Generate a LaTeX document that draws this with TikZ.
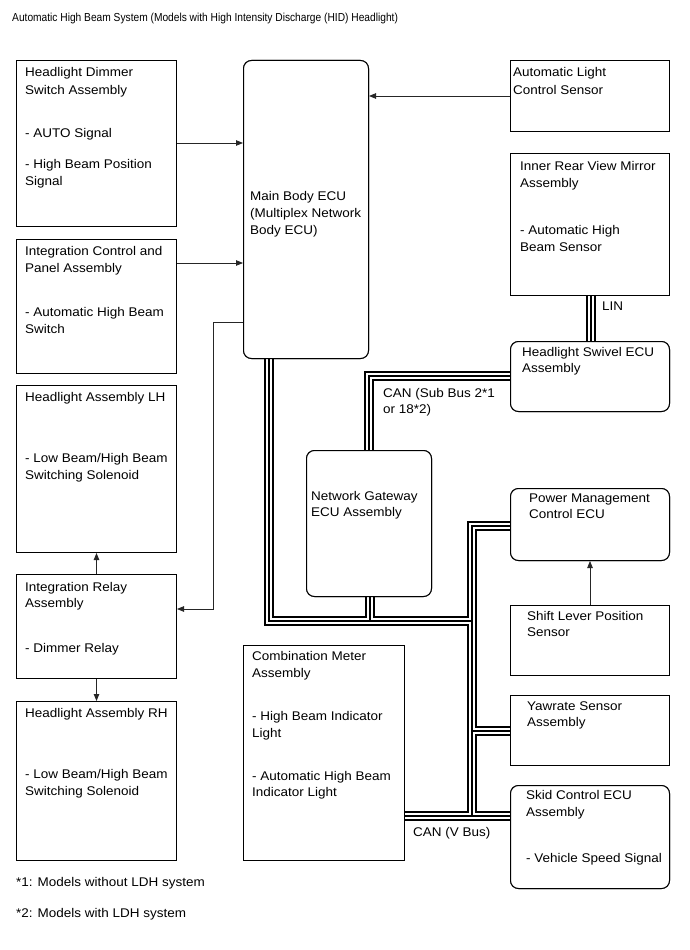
\documentclass[tikz,border=0pt]{standalone}
\usepackage{fontspec}
\setmainfont[FakeStretch=1.07]{Liberation Sans}
\newfontfamily\titlefont[FakeStretch=0.88]{Liberation Sans}
\usetikzlibrary{arrows.meta}
\newcommand\BusNet[1]{%
  \draw[#1] (mirror.south -| xlin) -- (swivel.north -| xlin);
  \draw[#1] (swivel.west |- xsub) -- (xsub) -- (gateway.north -| xsub);
  \draw[#1] (mainecu.south -| xmain) -- (xmain) -- (xjoin);
  \draw[#1] (gateway.south -| xgw) -- (xgw);
  \draw[#1] (power.west |- xvtop) -- (xvtop) -- (xvbot) -- (comb.east |- xvbot);
  \draw[#1] (xvbot) -- (skid.west |- xvbot);
  \draw[#1] (xyaw) -- (yaw.west |- xyaw);
}
\begin{document}
\begin{tikzpicture}[x=1pt,y=-1pt,
  every node/.style={font=\fontsize{12.6}{15}\selectfont},
  box/.style={draw=black, line width=1pt, fill=white, inner sep=0pt, anchor=north west},
  rbox/.style={box, rounded corners=8pt},
  txt/.style={anchor=west, inner sep=0pt, text height=0.72em, text depth=0pt},
  arr/.style={line width=0.8pt, draw=black!85, -{Triangle[length=7pt,width=5.5pt]}},
  busa/.style={line width=10pt, black},
  busb/.style={line width=6.5pt, white},
  busc/.style={line width=1.1pt, black}]
\useasboundingbox (0,0) rectangle (689,950);
\fill[white] (0,0) rectangle (689,950);

% helper coordinates
\coordinate (xlin) at (591,0);
\coordinate (xsub) at (369,376);
\coordinate (xmain) at (269,621);
\coordinate (xjoin) at (472,621);
\coordinate (xgw) at (370,621);
\coordinate (xvtop) at (472,526);
\coordinate (xvbot) at (472,816);
\coordinate (xyaw) at (472,731);
\coordinate (ah1) at (200,143);
\coordinate (ah2) at (200,263);
\coordinate (ar1) at (213,322);
\coordinate (ar2) at (213,609);

% boxes (geometry first, for anchors)
\node[box, minimum width=160pt, minimum height=166pt] (dimmer) at (16,60) {};
\node[box, minimum width=160pt, minimum height=134pt] (icp) at (16,239) {};
\node[box, minimum width=160pt, minimum height=167pt] (lh) at (16,385) {};
\node[box, minimum width=160pt, minimum height=104pt] (relay) at (16,574) {};
\node[box, minimum width=160pt, minimum height=159pt] (rh) at (16,701) {};
\node[rbox, minimum width=125pt, minimum height=298pt] (mainecu) at (243,60) {};
\node[box, minimum width=159pt, minimum height=71pt] (alcs) at (510,60) {};
\node[box, minimum width=159pt, minimum height=142pt] (mirror) at (510,153) {};
\node[rbox, minimum width=159pt, minimum height=70pt] (swivel) at (510,341) {};
\node[rbox, minimum width=125pt, minimum height=146pt] (gateway) at (306,450) {};
\node[rbox, minimum width=159pt, minimum height=72pt] (power) at (510,488) {};
\node[box, minimum width=159pt, minimum height=70pt] (shift) at (510,605) {};
\node[box, minimum width=161pt, minimum height=215pt] (comb) at (243,645) {};
\node[box, minimum width=159pt, minimum height=70pt] (yaw) at (510,695) {};
\node[rbox, minimum width=159pt, minimum height=103pt] (skid) at (510,785) {};

% buses, layered
\BusNet{busa}
\BusNet{busb}
\BusNet{busc}

% redraw boxes on top of bus ends
\node[rbox, minimum width=125pt, minimum height=298pt] (mainecuB) at (243,60) {};
\node[box, minimum width=159pt, minimum height=142pt] (mirrorB) at (510,153) {};
\node[rbox, minimum width=159pt, minimum height=70pt] (swivelB) at (510,341) {};
\node[rbox, minimum width=125pt, minimum height=146pt] (gatewayB) at (306,450) {};
\node[rbox, minimum width=159pt, minimum height=72pt] (powerB) at (510,488) {};
\node[box, minimum width=161pt, minimum height=215pt] (combB) at (243,645) {};
\node[box, minimum width=159pt, minimum height=70pt] (yawB) at (510,695) {};
\node[rbox, minimum width=159pt, minimum height=103pt] (skidB) at (510,785) {};

% arrows
\draw[arr] (dimmer.east |- ah1) -- (mainecu.west |- ah1);
\draw[arr] (icp.east |- ah2) -- (mainecu.west |- ah2);
\draw[arr] (alcs.west) -- (alcs.west -| mainecu.east);
\draw[arr] (mainecu.west |- ar1) -- (ar1) -- (ar2) -- (relay.east |- ar2);
\draw[arr] (relay.north) -- (lh.south);
\draw[arr] (relay.south) -- (rh.north);
\draw[arr] (shift.north) -- (power.south);

% texts
\node[txt, font=\titlefont\fontsize{11.6}{14}\selectfont] (title) at (12,18) {Automatic High Beam System (Models with High Intensity Discharge (HID) Headlight)};

\node[txt] (d1) at (25,73) {Headlight Dimmer};
\node[txt] (d2) at (25,91) {Switch Assembly};
\node[txt] (d3) at (25,134) {- AUTO Signal};
\node[txt] (d4) at (25,165) {- High Beam Position};
\node[txt] (d5) at (25,182) {Signal};

\node[txt] (i1) at (25,252) {Integration Control and};
\node[txt] (i2) at (25,269) {Panel Assembly};
\node[txt] (i3) at (25,313) {- Automatic High Beam};
\node[txt] (i4) at (25,330) {Switch};

\node[txt] (l1) at (25,398) {Headlight Assembly LH};
\node[txt] (l2) at (25,459) {- Low Beam/High Beam};
\node[txt] (l3) at (25,476) {Switching Solenoid};

\node[txt] (r1) at (25,588) {Integration Relay};
\node[txt] (r2) at (25,604) {Assembly};
\node[txt] (r3) at (25,649) {- Dimmer Relay};

\node[txt] (h1) at (25,714) {Headlight Assembly RH};
\node[txt] (h2) at (25,775) {- Low Beam/High Beam};
\node[txt] (h3) at (25,792) {Switching Solenoid};

\node[txt] (m1) at (250,197) {Main Body ECU};
\node[txt] (m2) at (250,214) {(Multiplex Network};
\node[txt] (m3) at (250,231) {Body ECU)};

\node[txt] (a1) at (513,73) {Automatic Light};
\node[txt] (a2) at (513,91) {Control Sensor};

\node[txt] (v1) at (520,167) {Inner Rear View Mirror};
\node[txt] (v2) at (520,184) {Assembly};
\node[txt] (v3) at (520,231) {- Automatic High};
\node[txt] (v4) at (520,248) {Beam Sensor};

\node[txt] (lin) at (602,307) {LIN};

\node[txt] (s1) at (522,353) {Headlight Swivel ECU};
\node[txt] (s2) at (522,369) {Assembly};

\node[txt] (c1) at (383,394) {CAN (Sub Bus 2*1};
\node[txt] (c2) at (383,410) {or 18*2)};

\node[txt] (g1) at (311,497) {Network Gateway};
\node[txt] (g2) at (311,513) {ECU Assembly};

\node[txt] (p1) at (529,499) {Power Management};
\node[txt] (p2) at (529,515) {Control ECU};

\node[txt] (sh1) at (527,617) {Shift Lever Position};
\node[txt] (sh2) at (527,633) {Sensor};

\node[txt] (cm1) at (252,657) {Combination Meter};
\node[txt] (cm2) at (252,674) {Assembly};
\node[txt] (cm3) at (252,717) {- High Beam Indicator};
\node[txt] (cm4) at (252,734) {Light};
\node[txt] (cm5) at (252,777) {- Automatic High Beam};
\node[txt] (cm6) at (252,793) {Indicator Light};

\node[txt] (y1) at (527,707) {Yawrate Sensor};
\node[txt] (y2) at (527,723) {Assembly};

\node[txt] (k1) at (526,796) {Skid Control ECU};
\node[txt] (k2) at (526,813) {Assembly};
\node[txt] (k3) at (526,859) {- Vehicle Speed Signal};

\node[txt] (vb) at (413,833) {CAN (V Bus)};

\node[txt] (f1) at (16,883) {*1: Models without LDH system};
\node[txt] (f2) at (16,914) {*2: Models with LDH system};
\end{tikzpicture}
\end{document}
